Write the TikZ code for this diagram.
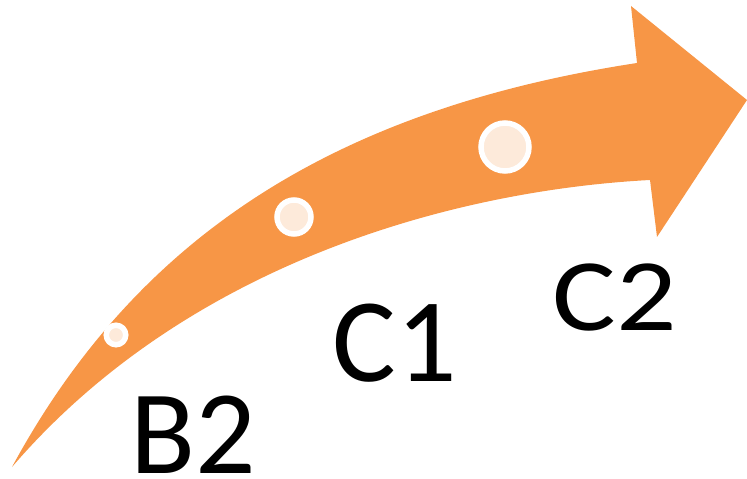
\documentclass[tikz,border=0pt]{standalone}
\usepackage{fontspec}
\setmainfont{Carlito}
\usepackage{tikz}
\usepackage{xcolor}
\definecolor{arroworange}{HTML}{F79646}
\definecolor{dotpeach}{HTML}{FDEADA}

\begin{document}
\begin{tikzpicture}[
    x=0.02cm, y=-0.02cm,
    band/.style={fill=arroworange, draw=none},
    dot/.style={circle, fill=dotpeach, draw=white, line width=0.11cm, inner sep=0pt},
    stage/.style={inner sep=0pt, anchor=base, font=\fontsize{68}{80}\selectfont}
]
\useasboundingbox (0,0) rectangle (747,479);
% curved arrow
\fill[band] (12,467) .. controls (135,240) and (330,110) .. (637,63)
    -- (631,6) -- (747,100) -- (657,237) -- (650,180)
    .. controls (460,190) and (190,260) .. (12,467) -- cycle;
% dots on the arrow
\node[dot, minimum size=0.39cm] (b2dot) at (116,335) {};
\node[dot, minimum size=0.68cm] (c1dot) at (294,217) {};
\node[dot, minimum size=0.96cm] (c2dot) at (505,147) {};
% stage labels
\node[stage] (b2) at (193,473) {B2};
\node[stage] (c1) at (395,381) {C1};
\node[stage] (c2) at (615,331) {\scalebox{1}[0.86]{C2}};
\end{tikzpicture}
\end{document}
